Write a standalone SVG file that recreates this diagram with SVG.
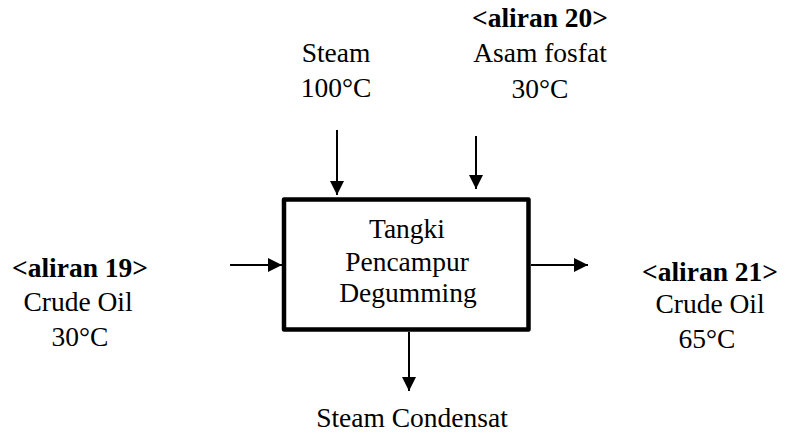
<svg xmlns="http://www.w3.org/2000/svg" width="791" height="434" viewBox="0 0 791 434">
<defs>
<marker id="ah" markerWidth="15" markerHeight="14" refX="14" refY="7" orient="auto" markerUnits="userSpaceOnUse">
<path d="M0,0 L14,7 L0,14 z" fill="#000"/>
</marker>
<style>
text{font-family:"Liberation Serif","Times New Roman",serif;font-size:27.5px;fill:#000;text-anchor:middle}
.b{font-weight:bold}
.c{stroke:#000;stroke-width:2;fill:none;marker-end:url(#ah)}
</style>
</defs>
<rect width="791" height="434" fill="#fff"/>
<g id="tank">
<rect x="284" y="199.5" width="244.5" height="130" fill="none" stroke="#000" stroke-width="4.5" stroke-linejoin="round"/>
<text x="407" y="238">Tangki</text>
<text x="407" y="271">Pencampur</text>
<text x="408" y="302">Degumming</text>
</g>
<g id="steam">
<text x="336" y="62">Steam</text>
<text x="336" y="97">100°C</text>
</g>
<g id="aliran20">
<text class="b" x="540" y="27">&lt;aliran 20&gt;</text>
<text x="540" y="62">Asam fosfat</text>
<text x="540" y="98">30°C</text>
</g>
<g id="aliran19">
<text class="b" x="80" y="277">&lt;aliran 19&gt;</text>
<text x="78" y="311">Crude Oil</text>
<text x="80" y="346">30°C</text>
</g>
<g id="aliran21">
<text class="b" x="710" y="281">&lt;aliran 21&gt;</text>
<text x="710" y="313">Crude Oil</text>
<text x="707" y="348">65°C</text>
</g>
<g id="condensat">
<text x="412" y="427">Steam Condensat</text>
</g>
<g id="connectors">
<line class="c" x1="337" y1="130" x2="337" y2="195"/>
<line class="c" x1="476" y1="136" x2="476" y2="189"/>
<line class="c" x1="230" y1="265" x2="282" y2="265"/>
<line class="c" x1="531" y1="265" x2="588" y2="265"/>
<line class="c" x1="409" y1="332" x2="409" y2="391"/>
</g>
</svg>
